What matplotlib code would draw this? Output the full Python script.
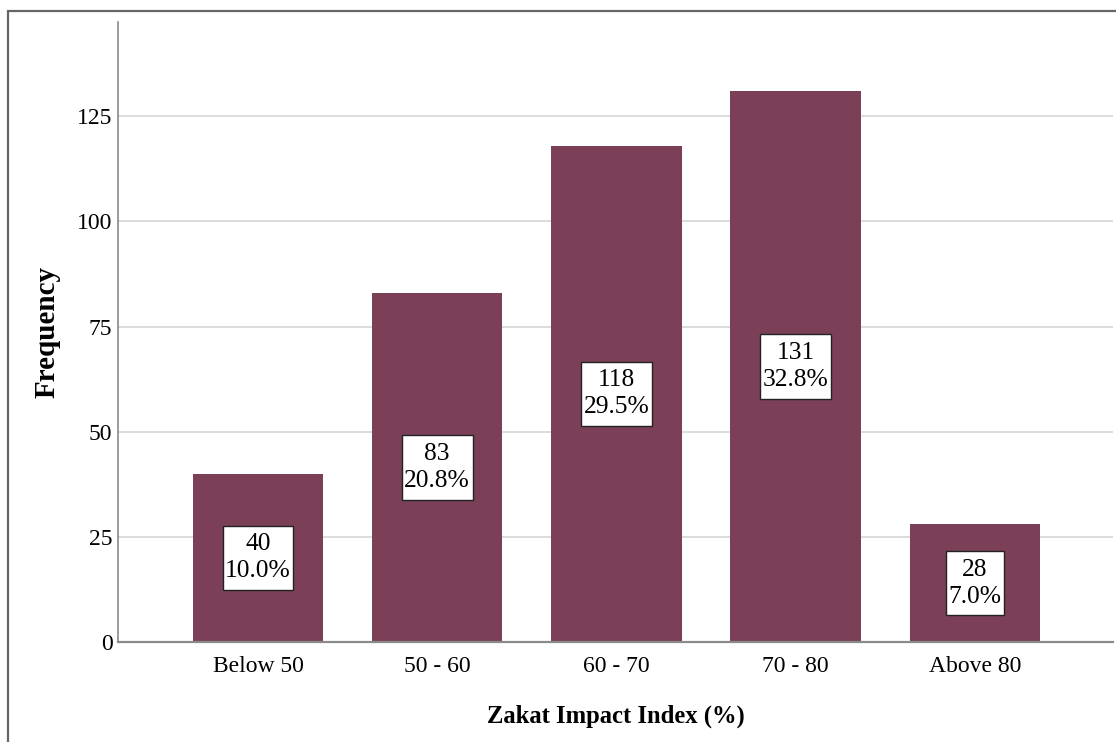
import matplotlib
matplotlib.use("Agg")
import matplotlib.pyplot as plt
from matplotlib.patches import Rectangle
from matplotlib.path import Path

# Frequency table of the Zakat Impact Index
categories = ["Below 50", "50 - 60", "60 - 70", "70 - 80", "Above 80"]
counts = [40, 83, 118, 131, 28]
percents = [10.0, 20.8, 29.5, 32.8, 7.0]
y_ticks = [0, 25, 50, 75, 100, 125]

bar_color = "#7b4058"
grid_color = "#d9d9d9"
serif = ["Liberation Serif", "DejaVu Serif"]

plt.rcParams["font.family"] = serif


def label_box(x0, y0, width, height, mutation_size):
    """Square box with a narrow side margin and a taller top/bottom margin."""
    px = 0.10 * mutation_size
    py = 0.30 * mutation_size
    x0, x1 = x0 - px, x0 + width + px
    y0, y1 = y0 - py, y0 + height + py
    return Path([(x0, y0), (x1, y0), (x1, y1), (x0, y1), (x0, y0)], closed=True)


fig = plt.figure(figsize=(11.16, 7.42), dpi=100)
fig.patch.set_facecolor("white")

ax = fig.add_axes([118 / 1116, 1 - 642 / 742, (1113 - 118) / 1116, (642 - 22) / 742])
x = list(range(len(categories)))

ax.set_axisbelow(True)
ax.yaxis.grid(True, color=grid_color, linewidth=1.3)
ax.bar(x, counts, width=0.728, color=bar_color, edgecolor="none", zorder=2)

for xi, c, p in zip(x, counts, percents):
    ax.text(xi, c / 2, f"{c}\n{p:.1f}%", ha="center", va="center",
            fontsize=18.4, linespacing=1.3, color="black", zorder=4,
            bbox=dict(boxstyle=label_box, facecolor="white",
                      edgecolor="#222222", linewidth=1.0))

ax.set_xlim(-0.781, 4.771)
ax.set_ylim(0, 147.4)
ax.set_xticks(x)
ax.set_xticklabels(categories)
ax.set_yticks(y_ticks)
ax.tick_params(axis="both", length=0, labelsize=17, colors="black")
ax.tick_params(axis="x", pad=10)
ax.tick_params(axis="y", pad=4)

for side in ("top", "right"):
    ax.spines[side].set_visible(False)
ax.spines["left"].set_color("#808080")
ax.spines["left"].set_linewidth(1.1)
ax.spines["bottom"].set_color("#8a8a8a")
ax.spines["bottom"].set_linewidth(1.6)

ax.set_xlabel("Zakat Impact Index (%)", fontsize=17.7, fontweight="bold", labelpad=20)
ax.set_ylabel("Frequency", fontsize=21, fontweight="bold", labelpad=12)

# Outer frame around the chart
fig.patches.append(Rectangle((8 / 1116, -0.1), 1.2, 1.1 - 11 / 742,
                             transform=fig.transFigure, fill=False,
                             edgecolor="#666666", linewidth=1.6))

fig.savefig("out.png", dpi=100, facecolor="white")
